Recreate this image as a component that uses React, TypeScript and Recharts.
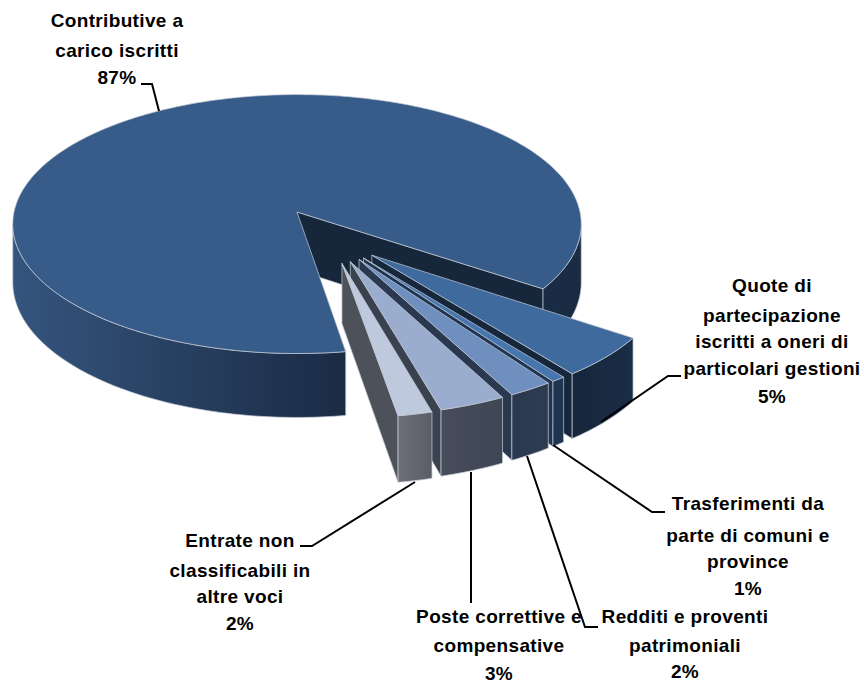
import React from 'react';
import { PieChart, Pie } from 'recharts';

const CATEGORIES = [
  'Contributive a carico iscritti',
  'Quote di partecipazione iscritti a oneri di particolari gestioni',
  'Trasferimenti da parte di comuni e province',
  'Redditi e proventi patrimoniali',
  'Poste correttive e compensative',
  'Entrate non classificabili in altre voci',
];
// the printed labels are these rounded
const SHARES = [87.1, 5, 0.7, 2.2, 3.3, 1.7];
const LABEL_LINES = [
  ['Contributive a', 'carico iscritti'],
  ['Quote di', 'partecipazione', 'iscritti a oneri di', 'particolari gestioni'],
  ['Trasferimenti da', 'parte di comuni e', 'province'],
  ['Redditi e proventi', 'patrimoniali'],
  ['Poste correttive e', 'compensative'],
  ['Entrate non', 'classificabili in', 'altre voci'],
];

const TABLE = CATEGORIES.map((name, slot) => ({ name, value: SHARES[slot], slot }));

// look of each slice: top face, wall gradient (left, right), radial wall
const TOP_COLORS = ['#375c8a', '#3f6a9e', '#4676ad', '#6f8fbf', '#9badce', '#bfc9de'];
const WALL_COLORS = [
  ['#35557e', '#1a2b44'],
  ['#16263b', '#1b2d47'],
  ['#1f3450', '#1f3450'],
  ['#2b3950', '#2e3c52'],
  ['#474d5a', '#3f4654'],
  ['#6d7078', '#5a5d66'],
];
const SIDE_COLORS = ['#16263b', '#16263b', '#1f3450', '#2b3950', '#3a424f', '#4d5159'];

// label placement: text centre, baseline of each line, leader line
const LABEL_LAYOUT = [
  { x: 117, ys: [27, 57, 84], leader: '141,84 152,84 159,111' },
  { x: 772, ys: [292, 322, 348, 375, 403], leader: '681,376 668,376 601,422' },
  { x: 748, ys: [510, 542, 568, 595], leader: '553,445 652,512 665,512' },
  { x: 685, ys: [623, 652, 678], leader: '527,456 585,627 598,627' },
  { x: 499, ys: [623, 652, 680], leader: '471,472 471,603' },
  { x: 240, ys: [547, 577, 603, 630], leader: '415,482 312,546 300,546' },
];

// 3d look: the pie lies on a plane seen in perspective
const TILT = 0.4535;
const PERSPECTIVE = 0.093;
const DEPTH = 58;
const EXPLODE = 0.415;
const EXPLODE_GROW = 1.01;
const FOCUS_ANGLE = -59.5;
const FOCUS_PULL = 0.48;
const EDGE = '#c5ccd6';
const SILHOUETTE = (Math.asin(PERSPECTIVE) * 180) / Math.PI;

const rad = (deg: number) => (deg * Math.PI) / 180;

const SliceShape = (props: any) => {
  const { cx, cy, outerRadius: R, startAngle, endAngle, slot } = props;
  const a = Math.max(startAngle, endAngle);
  const b = Math.min(startAngle, endAngle);
  const mid = ((a + b) / 2 + 540) % 360 - 180;
  const exploded = slot > 0;
  const dir = FOCUS_ANGLE + FOCUS_PULL * (mid - FOCUS_ANGLE);
  const u0 = exploded ? EXPLODE * Math.cos(rad(dir)) : 0;
  const v0 = exploded ? EXPLODE * Math.sin(rad(dir)) : 0;
  const r = exploded ? EXPLODE_GROW : 1;

  const project = (u: number, v: number, drop = 0) => {
    const w = 1 + PERSPECTIVE * v;
    return [cx + (R * u) / w, cy - (R * TILT * v) / w + drop / w];
  };
  const pt = (deg: number, drop = 0) => project(u0 + r * Math.cos(rad(deg)), v0 + r * Math.sin(rad(deg)), drop);
  const rim = (from: number, to: number, drop = 0) => {
    const steps = Math.max(2, Math.ceil(Math.abs(from - to)));
    return Array.from({ length: steps + 1 }, (_, i) => pt(from + ((to - from) * i) / steps, drop).join(','));
  };
  const apex = project(u0, v0);
  const apexLow = project(u0, v0, DEPTH);

  const walls: string[] = [];
  [0, -1].forEach((k) => {
    const lo = Math.max(b, -180 + SILHOUETTE + 360 * k);
    const hi = Math.min(a, -SILHOUETTE + 360 * k);
    if (lo >= hi) return;
    walls.push(`M${[...rim(hi, lo), ...rim(lo, hi, DEPTH)].join(' L')} Z`);
  });

  const gradId = `wall-${slot}`;
  const leftX = pt(slot === 0 ? -180 + SILHOUETTE : b)[0];
  return (
    <g>
      <defs>
        <linearGradient id={gradId} gradientUnits="userSpaceOnUse" x1={leftX} y1={0} x2={pt(a)[0]} y2={0}>
          <stop offset="0" stopColor={WALL_COLORS[slot][0]} />
          <stop offset="1" stopColor={WALL_COLORS[slot][1]} />
        </linearGradient>
      </defs>
      <path
        d={`M${apex.join(',')} L${pt(b).join(',')} L${pt(b, DEPTH).join(',')} L${apexLow.join(',')} Z`}
        fill={SIDE_COLORS[slot]}
        stroke={EDGE}
        strokeWidth={0.7}
      />
      {walls.map((d) => (
        <path key={d} d={d} fill={`url(#${gradId})`} stroke={EDGE} strokeWidth={0.7} />
      ))}
      <path
        d={`M${apex.join(',')} L${rim(a, b).join(' L')} Z`}
        fill={TOP_COLORS[slot]}
        stroke={EDGE}
        strokeWidth={0.7}
        strokeLinejoin="round"
      />
    </g>
  );
};

const SliceLabel = (props: any) => {
  const slot = props.index;
  const layout = LABEL_LAYOUT[slot];
  const lines = [...LABEL_LINES[slot], `${Math.round(SHARES[slot])}%`];
  return (
    <g>
      <polyline points={layout.leader} fill="none" stroke="#000" strokeWidth={2} />
      {lines.map((line, i) => (
        <text
          key={line}
          x={layout.x}
          y={layout.ys[i]}
          textAnchor="middle"
          fontFamily="Liberation Sans"
          fontWeight="bold"
          fontSize={19}
          letterSpacing={0.35}
          fill="#000"
        >
          {line}
        </text>
      ))}
    </g>
  );
};

export default function App() {
  return (
    <div style={{ position: 'absolute', left: 0, top: 0, width: 864, height: 683 }}>
      <PieChart width={864} height={683} margin={{ top: 0, right: 0, bottom: 0, left: 0 }}>
        <Pie
          data={TABLE}
          dataKey="value"
          cx={297}
          cy={212}
          innerRadius={0}
          outerRadius={283}
          startAngle={-81}
          endAngle={-441}
          paddingAngle={0}
          stroke="none"
          shape={SliceShape}
          label={SliceLabel}
          labelLine={false}
          isAnimationActive={false}
        />
      </PieChart>
    </div>
  );
}
